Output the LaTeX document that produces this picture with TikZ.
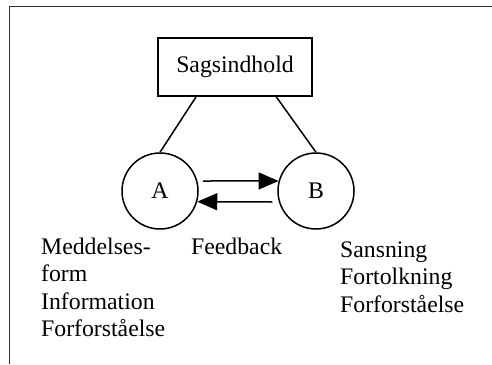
\documentclass[tikz,border=0pt]{standalone}
\usepackage{fontspec}
\setmainfont{Liberation Serif}
\usetikzlibrary{arrows.meta,calc}
\begin{document}
\begin{tikzpicture}[x=1pt,y=-1pt,
  every node/.style={font=\fontsize{23.75}{27.5}\selectfont},
  ln/.style={line width=1.5pt},
  party/.style={circle,draw,line width=1.5pt,minimum size=76pt,inner sep=0pt},
  topicbox/.style={rectangle,draw,line width=1.6pt,minimum width=154pt,minimum height=58pt,inner sep=0pt},
  lbl/.style={anchor=base west,align=left,inner sep=0pt},
  flow/.style={line width=1.5pt,-{Triangle[length=20pt,width=17pt]}}]
\useasboundingbox (0,0) rectangle (492,364);
% frame (top and left edges)
\draw[line width=1.6pt,black!80] (9.5,364) -- (9.5,6.5) -- (492,6.5);
% nodes
\node[topicbox] (S) at (235,67) {Sagsindhold};
\node[party] (A) at (160,191) {A};
\node[party] (B) at (316,191) {B};
% links from the topic to both parties
\draw[ln] ($(S.south west)!0.25!(S.south east)$) -- (A.north);
\draw[ln] ($(S.south west)!0.765!(S.south east)$) -- (B.north);
% message and feedback
\draw[flow] ($(A.east)+(4,-10)$) -- (B.165);
\draw[flow] ($(B.west)+(-5,11)$) -- (A.-16);
% labels (anchored on the baseline of the last line)
\node[lbl] (la) at (41,336.5) {Meddelses-\\form\\Information\\Forforståelse};
\node[lbl] (fb) at (191,254) {Feedback};
\node[lbl] (lb) at (340,312) {Sansning\\Fortolkning\\Forforståelse};
\end{tikzpicture}
\end{document}
